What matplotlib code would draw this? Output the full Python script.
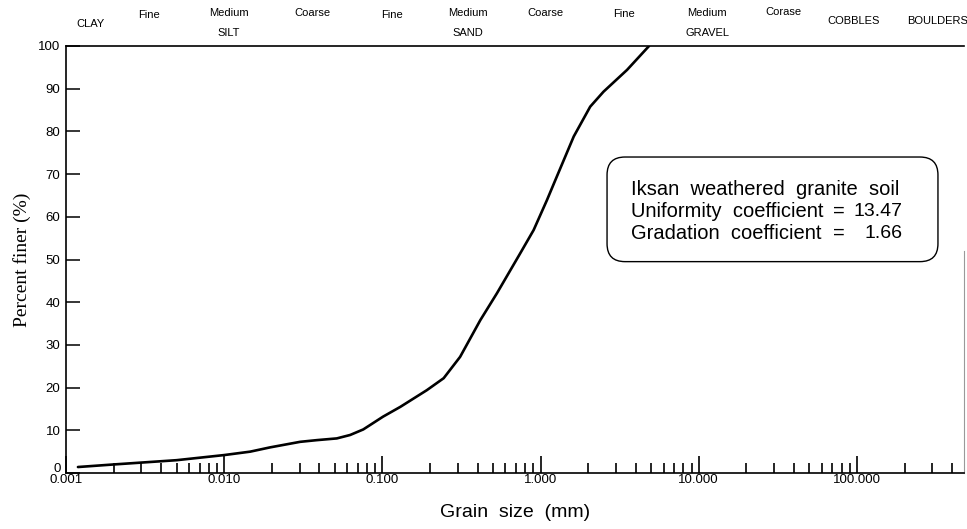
import matplotlib
matplotlib.use('Agg')
import matplotlib.pyplot as plt
import matplotlib.transforms as mtransforms
from matplotlib.patches import FancyBboxPatch
from matplotlib.ticker import FixedLocator, NullFormatter

#grain size distribution
grain_mm = [0.00119, 0.002, 0.005, 0.010, 0.0146, 0.0195, 0.0302, 0.0386,
            0.0515, 0.0625, 0.0757, 0.101, 0.130, 0.191, 0.244, 0.310,
            0.416, 0.530, 0.745, 0.904, 1.097, 1.24, 1.62, 2.06, 2.50,
            3.52, 4.85]
finer_pct = [1.4, 2.0, 3.0, 4.2, 5.0, 6.0, 7.3, 7.7,
             8.1, 8.9, 10.2, 13.2, 15.5, 19.4, 22.2, 27.2,
             35.8, 42.1, 51.5, 56.9, 63.9, 68.6, 78.8, 85.8, 89.3,
             94.4, 100.0]

x_ticks = [0.001, 0.01, 0.1, 1, 10, 100]
x_tick_labels = ['0.001', '0.010', '0.100', '1.000', '10.000', '100.000']
y_ticks = [0, 10, 20, 30, 40, 50, 60, 70, 80, 90, 100]

#soil classes along the top
class_names = ['CLAY', 'Fine', 'Medium', 'Coarse', 'Fine', 'Medium', 'Coarse',
               'Fine', 'Medium', 'Corase', 'COBBLES', 'BOULDERS']
class_sizes = [0.00142, 0.00335, 0.0107, 0.036, 0.115, 0.349, 1.07,
               3.38, 11.3, 34.3, 95, 323]
group_names = ['SILT', 'SAND', 'GRAVEL']
group_sizes = [0.0107, 0.349, 11.3]

info_lines = ['Iksan  weathered  granite  soil', 'Uniformity  coefficient', 'Gradation  coefficient']
info_values = ['', '13.47', '1.66']

W, H = 967, 529
fig = plt.figure(figsize=(W/100, H/100), dpi=100)
ax = fig.add_axes([66/W, 1-473/H, (964-66)/W, (473-46)/H])

ax.plot(grain_mm, finer_pct, color='black', lw=1.9, solid_capstyle='round')

ax.set_xscale('log')
ax.set_xlim(0.001, 475)
ax.set_ylim(0, 100)

ax.xaxis.set_major_locator(FixedLocator(x_ticks))
ax.set_xticklabels(x_tick_labels, family='Liberation Sans', fontsize=9.5)
minor = [m*10.0**e for e in range(-3, 3) for m in range(2, 10)]
ax.xaxis.set_minor_locator(FixedLocator(minor))
ax.xaxis.set_minor_formatter(NullFormatter())
ax.tick_params(axis='x', which='major', direction='in', length=12, width=1.2, pad=1)
ax.tick_params(axis='x', which='minor', direction='in', length=7, width=1.2)

ax.set_yticks(y_ticks)
ax.set_yticklabels([str(v) for v in y_ticks], family='Liberation Sans', fontsize=9.5)
ax.tick_params(axis='y', direction='in', length=10, width=1.1, pad=4)
#the zero label sits a little higher in the original
zero_lbl = ax.get_yticklabels()[0]
zero_lbl.set_transform(zero_lbl.get_transform() +
                       mtransforms.ScaledTranslation(0, 5/100, fig.dpi_scale_trans))

for s in ['left', 'bottom', 'top']:
    ax.spines[s].set_linewidth(1.2)
ax.spines['right'].set_bounds(0, 52)
ax.spines['right'].set_color('#999999')
ax.spines['right'].set_linewidth(0.8)

ax.set_ylabel('Percent finer (%)', family='Liberation Serif', fontsize=14, labelpad=5)
ax.set_xlabel('Grain  size  (mm)', family='Liberation Sans', fontsize=14, labelpad=13)

#class labels above the plot
trans = mtransforms.blended_transform_factory(ax.transData, fig.transFigure)
row_y = [0.955, 0.972, 0.975, 0.975, 0.972, 0.975, 0.975, 0.973, 0.975, 0.977, 0.960, 0.960]
for name, sz, yy in zip(class_names, class_sizes, row_y):
    ax.text(sz, yy, name, transform=trans, ha='center', va='center',
            family='Liberation Sans', fontsize=8)
for name, sz in zip(group_names, group_sizes):
    ax.text(sz, 0.938, name, transform=trans, ha='center', va='center',
            family='Liberation Sans', fontsize=8)

#info box
box = FancyBboxPatch((0.6025, 0.495), 0.3685, 0.245, transform=ax.transAxes,
                     boxstyle='round,pad=0,rounding_size=0.02', mutation_aspect=2.1,
                     facecolor='white', edgecolor='black', lw=1.0)
ax.add_patch(box)
line_y = [0.665, 0.613, 0.562]
for txt, val, yy in zip(info_lines, info_values, line_y):
    ax.text(0.629, yy, txt, transform=ax.transAxes, ha='left', va='center',
            family='Liberation Sans', fontsize=14.5)
    if val:
        ax.text(0.861, yy, '=', transform=ax.transAxes, ha='center', va='center',
                family='Liberation Sans', fontsize=14.5)
        ax.text(0.932, yy, val, transform=ax.transAxes, ha='right', va='center',
                family='Liberation Sans', fontsize=14)

fig.savefig('out.png', dpi=100)
